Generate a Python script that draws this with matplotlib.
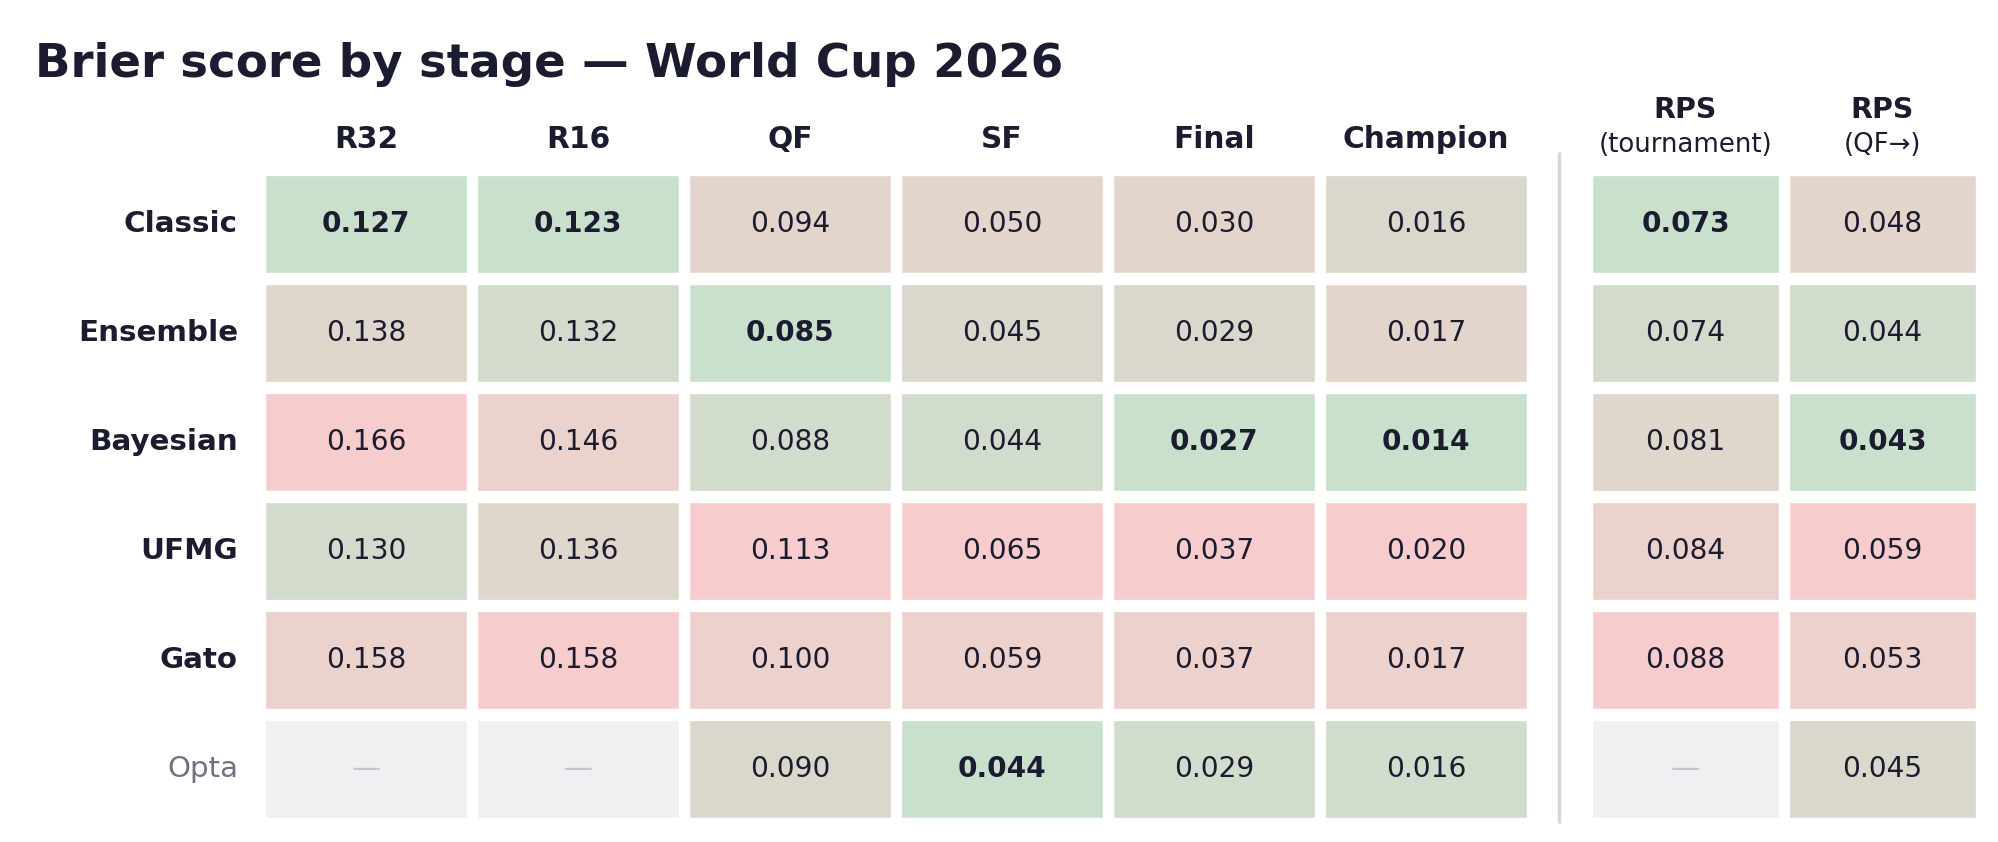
import numpy as np
import matplotlib
matplotlib.use('Agg')
import matplotlib.pyplot as plt
from matplotlib.patches import Rectangle

nan = np.nan

models = ['Classic', 'Ensemble', 'Bayesian', 'UFMG', 'Gato', 'Opta']
stages = ['R32', 'R16', 'QF', 'SF', 'Final', 'Champion']

# brier per stage (extra decimal kept where shown values tie)
r32 = [0.127, 0.138, 0.166, 0.130, 0.158, nan]
r16 = [0.123, 0.132, 0.146, 0.136, 0.158, nan]
qf = [0.094, 0.085, 0.088, 0.113, 0.100, 0.090]
sf = [0.050, 0.045, 0.0441, 0.065, 0.059, 0.0436]
final = [0.030, 0.0292, 0.027, 0.0372, 0.0368, 0.0288]
champion = [0.0162, 0.0168, 0.014, 0.020, 0.0172, 0.0158]

rps_titles = ['RPS', 'RPS']
rps_subtitles = ['(tournament)', '(QF\u2192)']
rps_tournament = [0.073, 0.074, 0.081, 0.084, 0.088, nan]
rps_qf = [0.048, 0.044, 0.043, 0.059, 0.053, 0.045]

GREEN = np.array([200, 224, 204]) / 255
RED = np.array([246, 205, 204]) / 255
MISSING = '#eff0f2'
INK = '#1c1c30'
MUTED = '#6e7282'

fig = plt.figure(figsize=(19.99, 8.42), dpi=100)
ax = fig.add_axes([0, 0, 1, 1])
ax.set_xlim(0, 1999)
ax.set_ylim(842, 0)
ax.axis('off')

# layout (pixels)
Y0, RH, RGAP = 175, 98, 11
X_MAIN, CW_MAIN, GAP = 265, 202, 10
X_RPS, CW_RPS = 1592, 187


def draw_column(values, x, w):
    vals = np.array(values, dtype=float)
    ok = ~np.isnan(vals)
    order = np.argsort(np.where(ok, vals, np.inf))
    n = ok.sum()
    rank = np.empty(len(vals))
    rank[order] = np.arange(len(vals))
    best = np.nanargmin(vals)
    for i, v in enumerate(vals):
        y = Y0 + i * (RH + RGAP)
        if np.isnan(v):
            ax.add_patch(Rectangle((x, y), w, RH, facecolor=MISSING,
                                   edgecolor='white', lw=1))
            ax.text(x + w / 2, y + RH / 2, '\u2014', ha='center', va='center',
                    fontsize=21, color='#c3c6ce')
            continue
        t = rank[i] / (n - 1)
        col = GREEN + (RED - GREEN) * t
        ax.add_patch(Rectangle((x, y), w, RH, facecolor=col,
                               edgecolor='white', lw=1))
        ax.text(x + w / 2, y + RH / 2, f'{v:.3f}', ha='center', va='center',
                fontsize=20.2, color=INK,
                fontweight='bold' if i == best else 'normal')


main_cols = [r32, r16, qf, sf, final, champion]
for j, (name, col) in enumerate(zip(stages, main_cols)):
    x = X_MAIN + j * (CW_MAIN + GAP)
    draw_column(col, x, CW_MAIN)
    ax.text(x + CW_MAIN / 2, 148, name, ha='center', va='baseline',
            fontsize=21.3, fontweight='bold', color=INK)

for j, (t1, t2, col) in enumerate(zip(rps_titles, rps_subtitles,
                                      [rps_tournament, rps_qf])):
    x = X_RPS + j * (CW_RPS + GAP)
    draw_column(col, x, CW_RPS)
    ax.text(x + CW_RPS / 2, 118, t1, ha='center', va='baseline',
            fontsize=20.5, fontweight='bold', color=INK)
    ax.text(x + CW_RPS / 2, 152, t2, ha='center', va='baseline',
            fontsize=18.7, color=INK)

for i, m in enumerate(models):
    y = Y0 + i * (RH + RGAP) + RH / 2
    if m == 'Opta':
        ax.text(238, y, m, ha='right', va='center', fontsize=21.2, color=MUTED)
    else:
        ax.text(238, y, m, ha='right', va='center', fontsize=21.2,
                fontweight='bold', color=INK)

ax.plot([1559, 1559], [152, 823], color='#d3d6de', lw=2.5,
        solid_capstyle='butt')

ax.text(35, 77, 'Brier score by stage \u2014 World Cup 2026', ha='left',
        va='baseline', fontsize=33.7, fontweight='bold', color=INK)

fig.savefig('out.png', dpi=100, facecolor='white')
